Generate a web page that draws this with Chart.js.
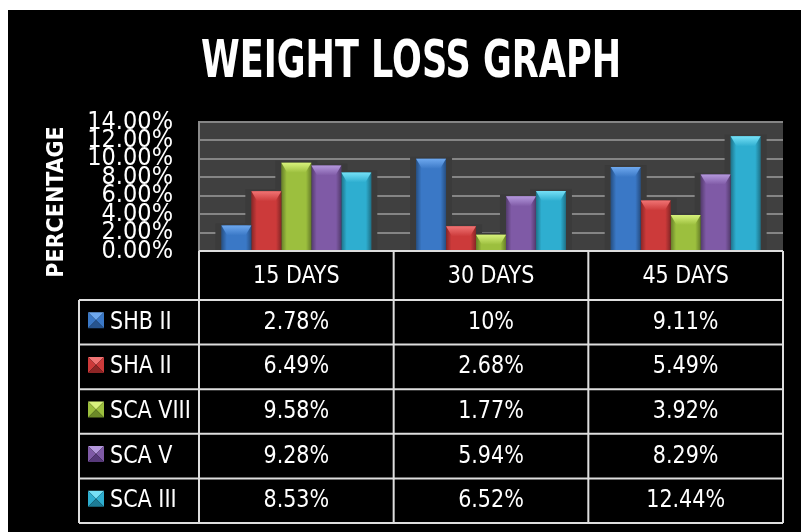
<!DOCTYPE html>
<html>
<head>
<meta charset="utf-8">
<script src="https://cdn.jsdelivr.net/npm/chart.js@4"></script>
<style>
  html, body { margin: 0; padding: 0; background: #ffffff; }
  #wrap { width: 801px; height: 532px; }
</style>
</head>
<body>
<div id="wrap"><canvas id="c" width="801" height="532"></canvas></div>
<script>
// ---- data ----
const categories = ['15 DAYS', '30 DAYS', '45 DAYS'];
const seriesNames = ['SHB II', 'SHA II', 'SCA VIII', 'SCA V', 'SCA III'];
const shbII  = [2.78, 10, 9.11];
const shaII  = [6.49, 2.68, 5.49];
const scaVIII = [9.58, 1.77, 3.92];
const scaV   = [9.28, 5.94, 8.29];
const scaIII = [8.53, 6.52, 12.44];
const yTickValues = [0, 2, 4, 6, 8, 10, 12, 14];
const titleText = 'WEIGHT LOSS GRAPH';
const yAxisTitle = 'PERCENTAGE';

// ---- styles ----
const NARROW = '"DejaVu Sans Condensed", "Liberation Sans", sans-serif';
const BASE  = ['#3a78c6', '#cc3a3a', '#9cbf3e', '#7f5aa6', '#2eaed0'];
const LIGHT = ['#6ea8ee', '#f07474', '#d8f27c', '#b498dc', '#76e0f6'];
const DARK  = ['#27548e', '#8e2626', '#6c8a28', '#57397a', '#1d7c96'];

const allSeries = [shbII, shaII, scaVIII, scaV, scaIII];
const fmtPct = v => (Number.isInteger(v) ? v + '%' : v.toFixed(2) + '%');

const TABLE = { legendLeft: 79, headerBottom: 300, rowH: 44.6, line: '#dedede', squeeze: 0.92 };

// draws text horizontally compressed (condensed look), anchored by align
function narrowText(ctx, text, x, y, sx, align) {
  ctx.save();
  ctx.translate(x, y);
  ctx.scale(sx, 1);
  ctx.textAlign = align;
  ctx.fillText(text, 0, 0);
  ctx.restore();
}

const decor = {
  id: 'decor',
  beforeDraw(chart) {
    const { ctx, chartArea: a } = chart;
    ctx.save();
    ctx.fillStyle = '#ffffff';
    ctx.fillRect(0, 0, chart.width, chart.height);
    ctx.fillStyle = '#000000';
    ctx.fillRect(8, 10, chart.width - 8, chart.height - 10);
    ctx.fillStyle = '#404040';
    ctx.fillRect(a.left, a.top, a.right - a.left, a.bottom - a.top);
    // title
    ctx.fillStyle = '#ffffff';
    ctx.font = 'bold 51px ' + NARROW;
    ctx.textBaseline = 'alphabetic';
    const w = ctx.measureText(titleText).width;
    narrowText(ctx, titleText, 411, 77, 420 / w, 'center');
    ctx.restore();
  },
  beforeDatasetsDraw(chart) {
    const { ctx } = chart;
    ctx.save();
    ctx.fillStyle = '#3b3b3b';
    chart.data.datasets.forEach((ds, i) => {
      chart.getDatasetMeta(i).data.forEach(bar => {
        const p = bar.getProps(['x', 'y', 'base', 'width'], true);
        ctx.fillRect(p.x - p.width / 2 - 6, p.y - 2, p.width + 12, p.base - p.y + 2);
      });
    });
    ctx.restore();
  },
  afterDatasetsDraw(chart) {
    const { ctx } = chart;
    ctx.save();
    chart.data.datasets.forEach((ds, i) => {
      chart.getDatasetMeta(i).data.forEach(bar => {
        const p = bar.getProps(['x', 'y', 'base', 'width'], true);
        const l = p.x - p.width / 2, r = p.x + p.width / 2, t = p.y, b = p.base;
        const h = b - t;
        const g = ctx.createLinearGradient(l, 0, r, 0);
        g.addColorStop(0, 'rgba(0,0,0,0.35)');
        g.addColorStop(0.18, 'rgba(0,0,0,0)');
        g.addColorStop(0.82, 'rgba(0,0,0,0)');
        g.addColorStop(1, 'rgba(0,0,0,0.35)');
        ctx.fillStyle = g;
        ctx.fillRect(l, t, r - l, h);
        const bh = Math.min(10, h);
        const inset = Math.min(6, (r - l) / 3);
        const tg = ctx.createLinearGradient(0, t, 0, t + bh);
        tg.addColorStop(0, LIGHT[i]);
        tg.addColorStop(1, BASE[i]);
        ctx.fillStyle = tg;
        ctx.beginPath();
        ctx.moveTo(l, t);
        ctx.lineTo(r, t);
        ctx.lineTo(r - inset, t + bh);
        ctx.lineTo(l + inset, t + bh);
        ctx.closePath();
        ctx.fill();
      });
    });
    ctx.restore();
  },
  afterDraw(chart) {
    const { ctx, chartArea: a } = chart;
    const xs = chart.scales.x;
    const n = categories.length;
    const colW = (xs.right - xs.left) / n;
    const bounds = [];
    for (let i = 0; i <= n; i++) bounds.push(xs.left + i * colW);
    const tTop = a.bottom;
    const hb = TABLE.headerBottom;
    const rows = seriesNames.length;
    const tBottom = hb + rows * TABLE.rowH;

    // y axis title
    ctx.save();
    ctx.fillStyle = '#ffffff';
    ctx.font = 'bold 23px ' + NARROW;
    ctx.textAlign = 'center';
    ctx.textBaseline = 'middle';
    ctx.translate(57, 202);
    ctx.rotate(-Math.PI / 2);
    ctx.fillText(yAxisTitle, 0, 0);
    ctx.restore();

    ctx.save();
    ctx.strokeStyle = TABLE.line;
    ctx.lineWidth = 2;
    ctx.beginPath();
    ctx.moveTo(bounds[0], tTop); ctx.lineTo(bounds[n], tTop);
    for (let r = 0; r <= rows; r++) {
      const y = hb + r * TABLE.rowH;
      ctx.moveTo(TABLE.legendLeft, y); ctx.lineTo(bounds[n], y);
    }
    bounds.forEach(x => { ctx.moveTo(x, tTop); ctx.lineTo(x, tBottom); });
    ctx.moveTo(TABLE.legendLeft, hb); ctx.lineTo(TABLE.legendLeft, tBottom);
    ctx.stroke();

    ctx.fillStyle = '#ffffff';
    ctx.font = '25px ' + NARROW;
    ctx.textBaseline = 'middle';
    const sq = TABLE.squeeze;
    categories.forEach((c, i) => {
      narrowText(ctx, c, xs.getPixelForValue(i), (tTop + hb) / 2 + 1, sq, 'center');
    });
    seriesNames.forEach((name, r) => {
      const cy = hb + r * TABLE.rowH + TABLE.rowH / 2;
      const kx = 88, ks = 16, ky = cy - ks / 2 - 2;
      const cx0 = kx + ks / 2, cy0 = ky + ks / 2;
      const tri = (pts, col) => {
        ctx.fillStyle = col; ctx.beginPath();
        ctx.moveTo(pts[0][0], pts[0][1]); ctx.lineTo(pts[1][0], pts[1][1]); ctx.lineTo(pts[2][0], pts[2][1]);
        ctx.closePath(); ctx.fill();
      };
      tri([[kx, ky], [kx + ks, ky], [cx0, cy0]], LIGHT[r]);
      tri([[kx, ky], [kx, ky + ks], [cx0, cy0]], BASE[r]);
      tri([[kx + ks, ky], [kx + ks, ky + ks], [cx0, cy0]], BASE[r]);
      tri([[kx, ky + ks], [kx + ks, ky + ks], [cx0, cy0]], DARK[r]);
      ctx.fillStyle = '#ffffff';
      narrowText(ctx, name, 110, cy, sq, 'left');
      allSeries[r].forEach((v, i) => {
        narrowText(ctx, fmtPct(v), xs.getPixelForValue(i), cy, sq, 'center');
      });
    });
    ctx.restore();
  }
};

const datasets = seriesNames.map((name, i) => ({
  label: name,
  data: allSeries[i],
  backgroundColor: BASE[i],
  borderWidth: 0,
  barPercentage: 1,
  categoryPercentage: 0.77
}));

new Chart(document.getElementById('c'), {
  type: 'bar',
  data: { labels: categories, datasets },
  plugins: [decor],
  options: {
    responsive: false,
    animation: false,
    layout: { padding: { left: 8, top: 122, right: 18, bottom: 281 } },
    plugins: {
      legend: { display: false },
      tooltip: { enabled: false },
      title: { display: false }
    },
    scales: {
      x: { display: false },
      y: {
        min: 0,
        max: 14,
        afterFit(scale) { scale.width = 191; },
        afterBuildTicks(scale) { scale.ticks = yTickValues.map(v => ({ value: v })); },
        ticks: {
          autoSkip: false,
          padding: 26,
          color: '#ffffff',
          font: { family: NARROW, size: 25, lineHeight: 1.0 },
          callback: v => v.toFixed(2) + '%'
        },
        grid: { color: '#858585', lineWidth: 2, drawTicks: false },
        border: { display: true, color: '#8a8a8a', width: 2 }
      }
    }
  }
});
</script>
</body>
</html>
